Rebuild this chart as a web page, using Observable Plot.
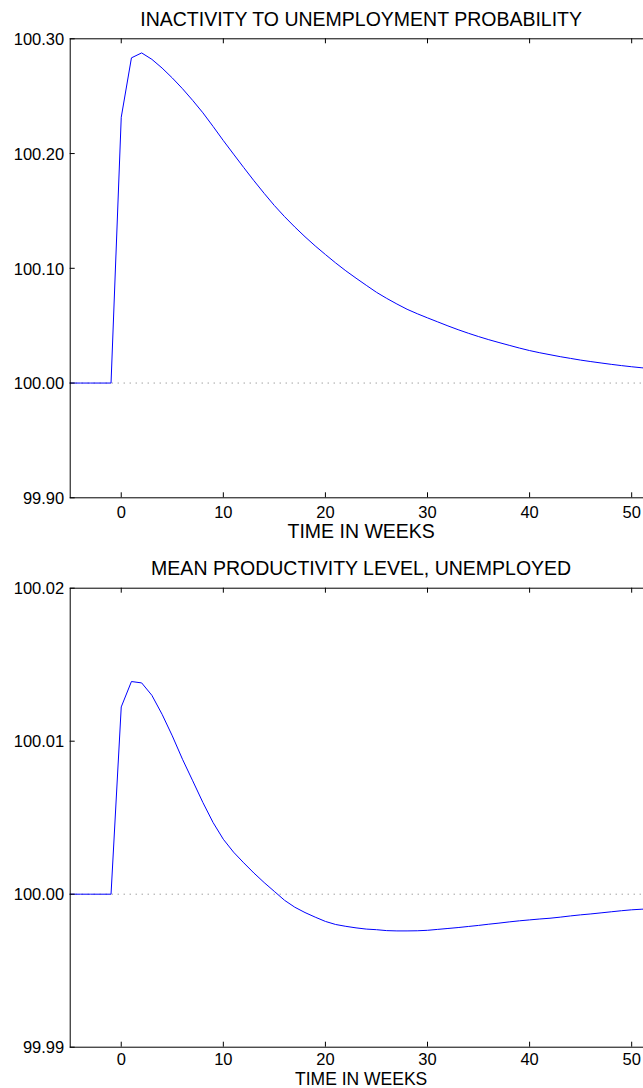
<!DOCTYPE html>
<html>
<head>
<meta charset="utf-8">
<script src="https://cdn.jsdelivr.net/npm/d3@7"></script>
<script src="https://cdn.jsdelivr.net/npm/@observablehq/plot@0.6"></script>
<style>
  html, body { margin: 0; padding: 0; overflow: hidden; background: white; }
  #charts { width: 660px; }
  #charts svg { display: block; max-width: none !important; width: 660px; height: auto; }
</style>
</head>
<body>
<div id="charts"></div>
<script>
// ---- data ----
const weeks = [-5,-4,-3,-2,-1,0,1,2,3,4,5,6,7,8,9,10,11,12,13,14,15,16,17,18,19,20,21,22,23,24,25,26,27,28,29,30,31,32,33,34,35,36,37,38,39,40,41,42,43,44,45,46,47,48,49,50,51,52];

const inactToUnemp = [100,100,100,100,100,
  100.2316,100.2834,100.2877,100.2821,100.2745,100.2659,100.2565,100.2463,100.2355,100.2236,
  100.2113,100.1995,100.1878,100.1763,100.1653,100.1547,100.1450,100.1360,100.1275,100.1195,
  100.1120,100.1047,100.0978,100.0914,100.0852,100.0791,100.0738,100.0689,100.0643,100.0604,
  100.0568,100.0533,100.0498,100.0465,100.0434,100.0405,100.0378,100.0353,100.0329,100.0305,
  100.0283,100.0264,100.0247,100.0230,100.0215,100.0200,100.0187,100.0175,100.0163,100.0152,
  100.0142,100.0133,100.0124];

const meanProdUnemp = [100,100,100,100,100,
  100.01224,100.01390,100.01381,100.01300,100.01176,100.01035,100.00882,100.00741,100.00599,100.00468,
  100.00359,100.00275,100.00205,100.00138,100.00076,100.00018,99.99960,99.99915,99.99880,99.99850,
  99.99822,99.99802,99.99790,99.99780,99.99772,99.99768,99.99762,99.99760,99.99760,99.99761,
  99.99764,99.99770,99.99776,99.99782,99.99789,99.99796,99.99804,99.99811,99.99819,99.99826,
  99.99832,99.99838,99.99843,99.99850,99.99858,99.99865,99.99871,99.99878,99.99885,99.99892,
  99.99898,99.99902,99.99905];

const xTicks = [0,10,20,30,40,50];
const topYTicks = [99.9,100.0,100.1,100.2,100.3];
const botYTicks = [99.99,100.00,100.01,100.02];
const titles = ["INACTIVITY TO UNEMPLOYMENT PROBABILITY", "MEAN PRODUCTIVITY LEVEL, UNEMPLOYED"];
const xLabel = "TIME IN WEEKS";

// ---- layout ----
const W = 660, mL = 69.7, mR = 8.4, innerH = 459;
const innerW = W - mL - mR;
const font = "'Liberation Sans', Arial, Helvetica, sans-serif";

function panel({values, yDomain, yTicks, title, height, marginTop, labelDy, labelSize, xPad}) {
  const data = weeks.map((w, i) => ({week: w, value: values[i]}));
  const marginBottom = height - marginTop - innerH;
  return Plot.plot({
    width: W,
    height,
    marginLeft: mL,
    marginRight: mR,
    marginTop,
    marginBottom,
    style: {fontFamily: font, fontSize: "16.5px", color: "black", background: "white", overflow: "visible", maxWidth: "none"},
    x: {domain: [-5, 52]},
    y: {domain: yDomain},
    marks: [
      Plot.ruleY([100], {stroke: "#777", strokeWidth: 1, strokeDasharray: "1,5"}),
      Plot.line(data, {x: "week", y: "value", stroke: "#0000ff", strokeWidth: 1}),
      Plot.frame({stroke: "black", strokeWidth: 1}),
      Plot.tickX(xTicks, {x: d => d, insetTop: innerH - 5, stroke: "black"}),
      Plot.tickX(xTicks, {x: d => d, insetBottom: innerH - 5, stroke: "black"}),
      Plot.tickY(yTicks, {y: d => d, insetRight: innerW - 5, stroke: "black"}),
      Plot.tickY(yTicks, {y: d => d, insetLeft: innerW - 5, stroke: "black"}),
      Plot.axisX({ticks: xTicks, tickSize: 0, tickPadding: xPad, label: null, fontSize: 16.5}),
      Plot.axisY({ticks: yTicks, tickSize: 0, tickPadding: 6, label: null, fontSize: 16.5, tickFormat: d3.format(".2f"), dy: 1}),
      Plot.text([title], {frameAnchor: "top", lineAnchor: "bottom", dy: -13.3, fontSize: 19.5, fill: "black"}),
      Plot.text([xLabel], {frameAnchor: "bottom", lineAnchor: "bottom", dy: labelDy, fontSize: labelSize, fill: "black"})
    ]
  });
}

const host = document.getElementById("charts");
host.append(panel({values: inactToUnemp, yDomain: [99.9, 100.3], yTicks: topYTicks, title: titles[0], height: 545, marginTop: 38.3, labelDy: 40, labelSize: 19.5, xPad: 8}));
host.append(panel({values: meanProdUnemp, yDomain: [99.99, 100.02], yTicks: botYTicks, title: titles[1], height: 543, marginTop: 42.7, labelDy: 37.8, labelSize: 17.5, xPad: 6}));
</script>
</body>
</html>
